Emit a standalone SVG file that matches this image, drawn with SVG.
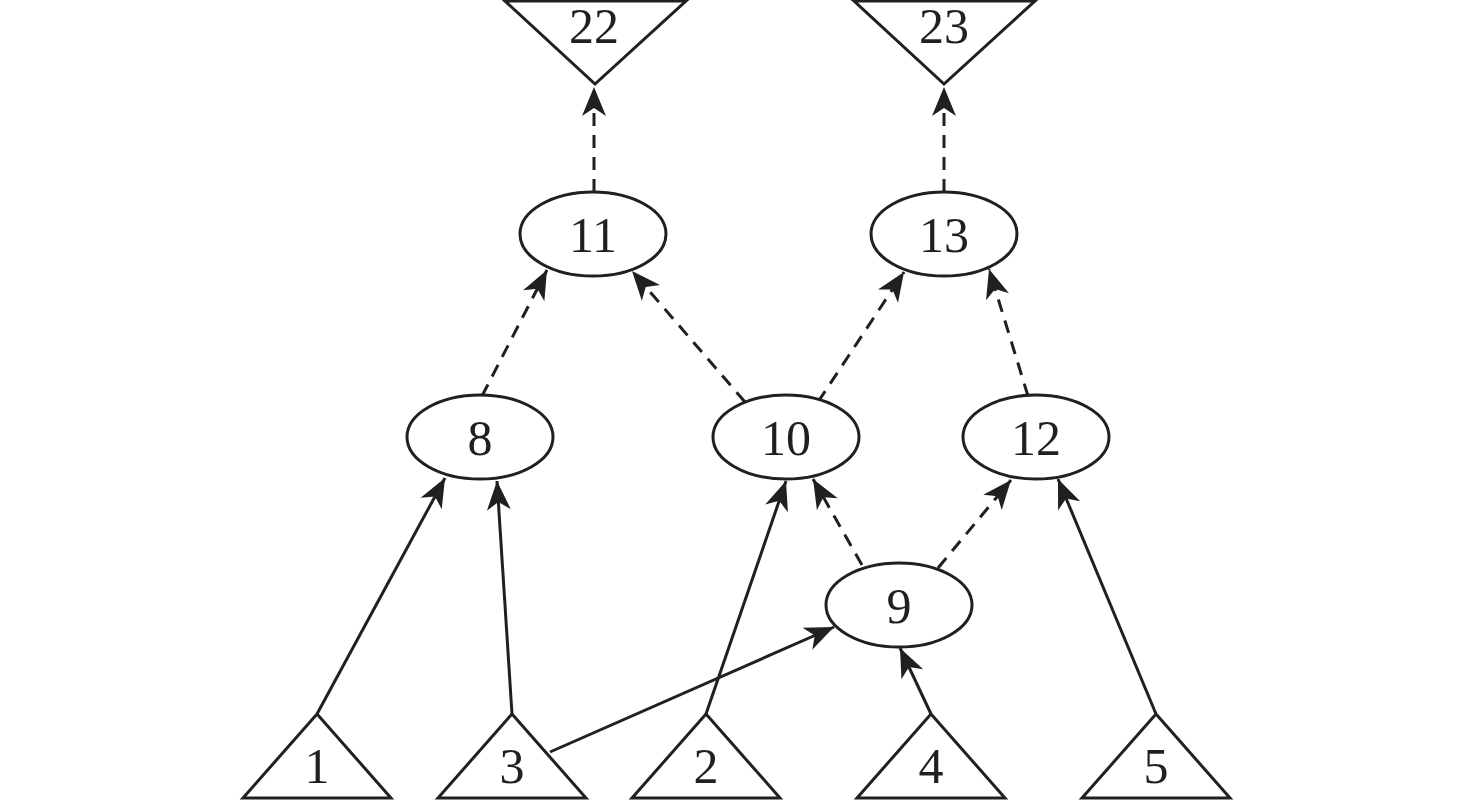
<svg xmlns="http://www.w3.org/2000/svg" width="1476" height="801" viewBox="0 0 1476 801">
<style>
.n{fill:#fff;stroke:#231f20;stroke-width:3}
.t{font-family:"Liberation Serif","Times New Roman",serif;font-size:50px;fill:#231f20;text-anchor:middle}
.e{fill:none;stroke:#231f20;stroke-width:3}
.d{stroke-dasharray:13 9}
</style>
<defs>
<marker id="a" markerUnits="userSpaceOnUse" markerWidth="36" markerHeight="32" viewBox="-32 -16 36 32" refX="0" refY="0" orient="auto">
<path d="M0,0 L-29,-12 L-21,0 L-29,12 Z" fill="#231f20"/>
</marker>
</defs>
<rect width="1476" height="801" fill="#fff"/>
<g id="connectors">
<line class="e" x1="317" y1="714" x2="445" y2="478" marker-end="url(#a)"/>
<line class="e" x1="512" y1="714" x2="497" y2="481" marker-end="url(#a)"/>
<line class="e" x1="550" y1="752" x2="834" y2="627" marker-end="url(#a)"/>
<line class="e" x1="706" y1="714" x2="786" y2="481" marker-end="url(#a)"/>
<line class="e" x1="931" y1="714" x2="900" y2="648" marker-end="url(#a)"/>
<line class="e" x1="1156" y1="714" x2="1058" y2="479" marker-end="url(#a)"/>
<line class="e d" x1="862" y1="565" x2="813" y2="479" marker-end="url(#a)"/>
<line class="e d" x1="938" y1="568" x2="1011" y2="480" marker-end="url(#a)"/>
<line class="e d" x1="482" y1="396" x2="547" y2="270" marker-end="url(#a)"/>
<line class="e d" x1="745" y1="402" x2="632" y2="271" marker-end="url(#a)"/>
<line class="e d" x1="818" y1="402" x2="904" y2="272" marker-end="url(#a)"/>
<line class="e d" x1="1028" y1="396" x2="989" y2="269" marker-end="url(#a)"/>
<line class="e d" x1="594" y1="192" x2="594" y2="87" marker-end="url(#a)"/>
<line class="e d" x1="944" y1="192" x2="944" y2="87" marker-end="url(#a)"/>
</g>
<g id="n22"><polygon class="n" points="505,1 686,1 595,84"/><text class="t" x="594" y="43">22</text></g>
<g id="n23"><polygon class="n" points="854,1 1035,1 944,84"/><text class="t" x="944" y="43">23</text></g>
<g id="n11"><ellipse class="n" cx="593" cy="234" rx="73" ry="42"/><text class="t" x="593" y="252">11</text></g>
<g id="n13"><ellipse class="n" cx="944" cy="234" rx="73" ry="42"/><text class="t" x="944" y="252">13</text></g>
<g id="n8"><ellipse class="n" cx="480" cy="437" rx="73" ry="42"/><text class="t" x="480" y="455">8</text></g>
<g id="n10"><ellipse class="n" cx="786" cy="437" rx="73" ry="42"/><text class="t" x="786" y="455">10</text></g>
<g id="n12"><ellipse class="n" cx="1036" cy="437" rx="73" ry="42"/><text class="t" x="1036" y="455">12</text></g>
<g id="n9"><ellipse class="n" cx="899" cy="605" rx="73" ry="42"/><text class="t" x="899" y="623">9</text></g>
<g id="n1"><polygon class="n" points="317,714 391,798 243,798"/><text class="t" x="317" y="783">1</text></g>
<g id="n3"><polygon class="n" points="512,714 586,798 438,798"/><text class="t" x="512" y="783">3</text></g>
<g id="n2"><polygon class="n" points="706,714 780,798 632,798"/><text class="t" x="706" y="783">2</text></g>
<g id="n4"><polygon class="n" points="931,714 1005,798 857,798"/><text class="t" x="931" y="783">4</text></g>
<g id="n5"><polygon class="n" points="1156,714 1230,798 1082,798"/><text class="t" x="1156" y="783">5</text></g>
</svg>
